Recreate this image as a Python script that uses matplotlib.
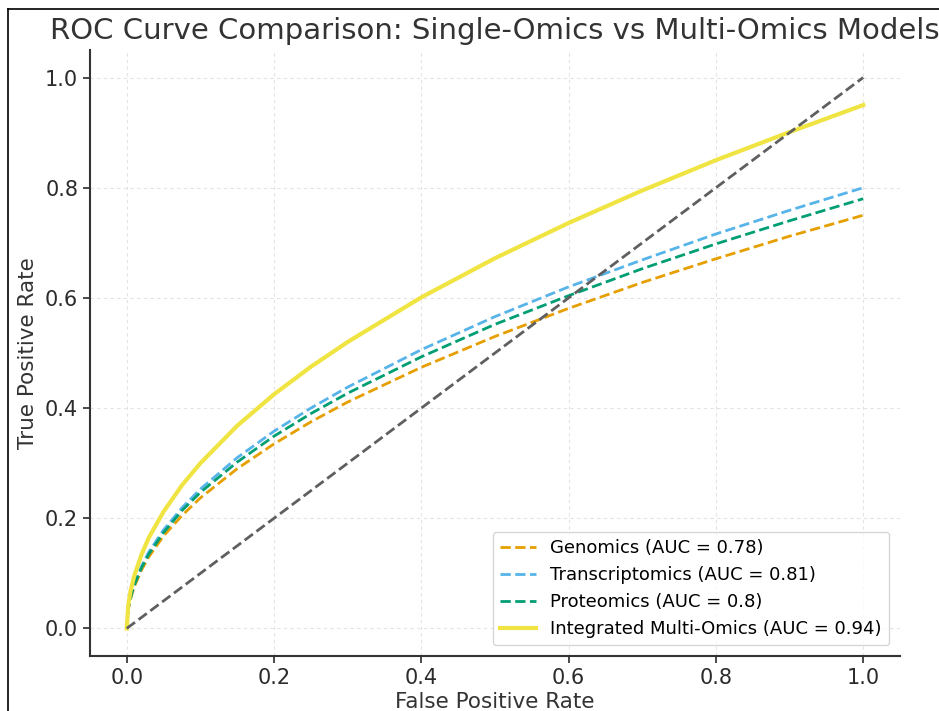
import numpy as np
import matplotlib
matplotlib.use("Agg")
import matplotlib.pyplot as plt
from matplotlib.lines import Line2D

# false positive rate grid
fpr = [0, 0.002, 0.005, 0.01, 0.02, 0.03, 0.05, 0.075, 0.1, 0.15, 0.2,
       0.25, 0.3, 0.4, 0.5, 0.6, 0.7, 0.8, 0.9, 1.0]

# true positive rates per model
tpr_genomics = [0, 0.034, 0.053, 0.075, 0.106, 0.130, 0.168, 0.205, 0.237, 0.290, 0.335,
                0.375, 0.411, 0.474, 0.530, 0.581, 0.628, 0.671, 0.712, 0.75]
tpr_transcriptomics = [0, 0.036, 0.057, 0.080, 0.113, 0.139, 0.179, 0.219, 0.253, 0.310, 0.358,
                       0.400, 0.438, 0.506, 0.566, 0.620, 0.669, 0.716, 0.759, 0.80]
tpr_proteomics = [0, 0.035, 0.055, 0.078, 0.110, 0.135, 0.174, 0.214, 0.247, 0.302, 0.349,
                  0.390, 0.427, 0.493, 0.552, 0.604, 0.653, 0.698, 0.740, 0.78]
tpr_integrated = [0, 0.042, 0.067, 0.095, 0.134, 0.165, 0.212, 0.260, 0.300, 0.368, 0.425,
                  0.475, 0.520, 0.601, 0.672, 0.736, 0.795, 0.850, 0.901, 0.95]

labels = ["Genomics (AUC = 0.78)", "Transcriptomics (AUC = 0.81)",
          "Proteomics (AUC = 0.8)", "Integrated Multi-Omics (AUC = 0.94)"]
diag = [0, 1]

fig = plt.figure(figsize=(9.39, 7.11), dpi=100)
ax = fig.add_axes([0.0958, 0.0774, 0.8627, 0.8523])

ax.plot(fpr, tpr_genomics, ls="--", color="#E69F00", lw=2, label=labels[0])
ax.plot(fpr, tpr_transcriptomics, ls="--", color="#56B4E9", lw=2, label=labels[1])
ax.plot(fpr, tpr_proteomics, ls="--", color="#009E73", lw=2, label=labels[2])
ax.plot(fpr, tpr_integrated, ls="-", color="#F0E442", lw=3, label=labels[3])
ax.plot(diag, diag, ls="--", color="#5f5f5f", lw=2)

ax.set_xlim(-0.05, 1.05)
ax.set_ylim(-0.05, 1.05)
ax.set_xticks([0, 0.2, 0.4, 0.6, 0.8, 1.0])
ax.set_yticks([0, 0.2, 0.4, 0.6, 0.8, 1.0])
ax.grid(True, ls=(0, (3, 3)), color="#e3e3e3", lw=0.8)
for s in ["top", "right"]:
    ax.spines[s].set_visible(False)
for s in ["left", "bottom"]:
    ax.spines[s].set_color("#333333")
    ax.spines[s].set_linewidth(1.5)
ax.tick_params(labelsize=15, colors="#2b2b2b", width=1.2, length=5)

ax.set_title("ROC Curve Comparison: Single-Omics vs Multi-Omics Models",
             fontsize=21, color="#333333", pad=8)
ax.set_xlabel("False Positive Rate", fontsize=15.5, color="#333333", labelpad=3)
ax.set_ylabel("True Positive Rate", fontsize=15.5, color="#333333", labelpad=5)
ax.legend(loc="lower right", fontsize=13, frameon=True, edgecolor="#cccccc",
          borderaxespad=0.6)

# screenshot border
fig.add_artist(Line2D([8 / 939, 1], [1 - 9 / 711, 1 - 9 / 711], color="black", lw=1.2))
fig.add_artist(Line2D([8 / 939, 8 / 939], [0, 1 - 9 / 711], color="black", lw=1.2))

fig.savefig("out.png", dpi=100)
